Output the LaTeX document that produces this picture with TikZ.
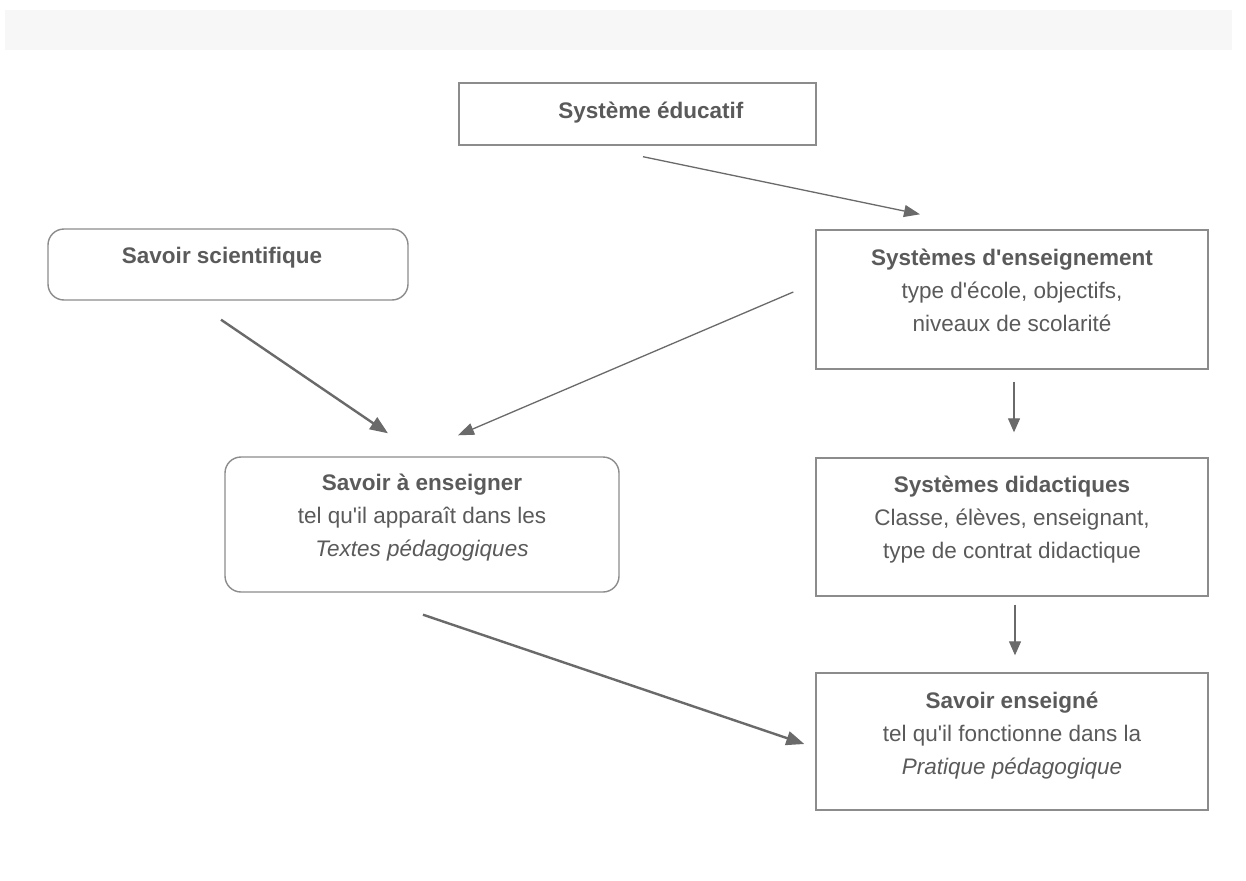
\documentclass[tikz,border=0pt]{standalone}
\usepackage{fontspec}
\setmainfont{Liberation Sans}[Ligatures=TeXOff]
\usetikzlibrary{calc,arrows.meta}
\definecolor{txt}{HTML}{5A5A5A}
\definecolor{brd}{HTML}{8C8C8C}
\definecolor{arr}{HTML}{6A6A6A}
\definecolor{band}{HTML}{F7F7F7}
\tikzset{
  sqbox/.style={draw=brd, line width=1.4pt, inner sep=0pt, rectangle},
  rdbox/.style={sqbox, rounded corners=16pt},
  lbl/.style={text=txt, align=center, inner sep=0pt, font=\fontsize{22.5}{33}\selectfont},
  thin arrow/.style={draw=arr, line width=1.3pt, -{Triangle[length=16pt,width=12pt]}},
  thick arrow/.style={draw=arr, line width=2.4pt, -{Triangle[length=18pt,width=14pt]}},
  vert arrow/.style={draw=arr, line width=1.3pt, -{Triangle[length=14pt,width=12pt]}}
}
\begin{document}
\begin{tikzpicture}[x=1pt,y=-1pt]
\useasboundingbox[fill=white] (0,0) rectangle (1246,880);
\fill[band] (5,10) rectangle (1232,50);

% boxes
\node[sqbox, minimum width=357pt, minimum height=62pt] (edu) at (637.5,114) {};
\node[rdbox, minimum width=360pt, minimum height=71pt] (sci) at (228,264.5) {};
\node[sqbox, minimum width=392pt, minimum height=139pt] (ens) at (1012,299.5) {};
\node[rdbox, minimum width=394pt, minimum height=135pt] (ase) at (422,524.5) {};
\node[sqbox, minimum width=392pt, minimum height=138pt] (did) at (1012,527) {};
\node[sqbox, minimum width=392pt, minimum height=137pt] (sen) at (1012,741.5) {};

% texts
\node[lbl] (tedu) at (651,113) {\textbf{Système éducatif}};
\node[lbl] (tsci) at (222,258) {\textbf{Savoir scientifique}};
\node[lbl] (tens) at (1012,290) {\textbf{Systèmes d'enseignement}\\type d'école, objectifs,\\niveaux de scolarité};
\node[lbl] (tase) at (422,518) {\textbf{Savoir à enseigner}\\tel qu'il apparaît dans les\\\textit{Textes pédagogiques}};
\node[lbl] (tdid) at (1012,520) {\textbf{Systèmes didactiques}\\Classe, élèves, enseignant,\\type de contrat didactique};
\node[lbl] (tsen) at (1012,736) {\textbf{Savoir enseigné}\\tel qu'il fonctionne dans la\\\textit{Pratique pédagogique}};

% connectors
\draw[thin arrow] ($(edu.south)+(5.5,11)$) -- ($(ens.north)+(-92,-15)$);
\draw[thick arrow] ($(sci.south)+(-7,19)$) -- ($(ase.north)+(-34,-23)$);
\draw[thin arrow] ($(ens.west)+(-22,-7.5)$) -- ($(ase.north)+(36,-21)$);
\draw[vert arrow] ($(ens.south)+(2,12)$) -- ($(did.north)+(2,-25)$);
\draw[vert arrow] ($(did.south)+(3,8)$) -- ($(sen.north)+(3,-17)$);
\draw[thick arrow] ($(ase.south)+(1,22)$) -- ($(sen.west)+(-11,2.5)$);
\end{tikzpicture}
\end{document}
